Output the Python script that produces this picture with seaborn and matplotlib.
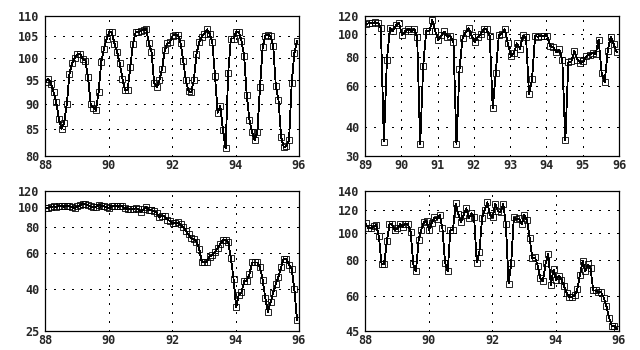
import numpy as np
import pandas as pd
import matplotlib
matplotlib.use("Agg")
import matplotlib.pyplot as plt
import seaborn as sns
from matplotlib.ticker import FixedLocator, FixedFormatter, NullLocator

# ---- data: monthly index values ----
months_88 = 96          # Jan 88 .. Dec 95
months_89 = 84          # Jan 89 .. Dec 95

series_a = [94.7, 95.4, 94.3, 92.5, 90.4, 87.0, 85.1, 86.3, 90.1, 96.4, 98.9, 100.0,
            100.8, 100.9, 99.8, 99.4, 95.8, 90.1, 89.3, 88.8, 92.5, 99.1, 102.0, 104.3,
            106.0, 106.0, 103.3, 101.4, 98.8, 95.4, 92.9, 93.0, 98.0, 103.2, 106.0, 106.0,
            106.3, 106.6, 106.8, 103.4, 101.4, 94.5, 93.6, 95.0, 97.6, 101.7, 103.4,
            103.6, 105.2, 105.4, 105.4, 103.4, 99.2, 95.0, 92.8, 92.5, 95.0, 100.8, 103.7,
            104.9, 105.7, 106.7, 105.6, 103.6, 96.0, 88.3, 89.6, 84.9, 81.4, 96.7, 104.5,
            104.5, 106.1, 106.1, 104.0, 100.5, 91.9, 86.9, 84.5, 83.0, 84.4, 93.5, 102.4,
            105.2, 105.4, 105.1, 102.7, 93.8, 90.9, 83.5, 81.6, 81.8, 83.0, 94.5, 101.1, 103.9]

series_b = [110.8, 111.6, 111.6, 112.7, 112.3, 106.2, 34.6, 78.0, 106.2, 103.7, 109.4, 112.3,
            99.0, 103.0, 105.8, 103.0, 105.8, 97.1, 33.7, 73.5, 103.7, 103.0, 115.3, 103.0,
            94.6, 99.0, 103.0, 97.7, 98.4, 92.7, 33.7, 70.7, 96.5, 101.7, 106.5, 99.0,
            92.7, 97.1, 100.4, 105.1, 105.1, 98.4, 48.1, 68.4, 99.0, 100.4, 105.1, 91.5,
            80.7, 83.4, 91.5, 86.8, 99.0, 97.1, 55.3, 64.4, 98.4, 97.7, 98.4, 98.4,
            98.4, 89.1, 87.9, 83.9, 86.2, 78.0, 35.0, 76.0, 76.5, 85.1, 78.0, 75.5,
            76.5, 80.7, 81.7, 83.4, 82.3, 94.6, 68.4, 62.3, 84.5, 97.7, 90.9, 83.9]

series_c = [98.8, 99.5, 100.3, 101.0, 100.3, 101.8, 101.8, 101.8, 101.8, 101.0, 100.3, 98.8,
            101.0, 102.5, 104.1, 103.3, 102.5, 101.0, 100.3, 100.3, 102.5, 101.8, 101.0, 100.3,
            98.8, 101.8, 101.8, 101.8, 101.8, 101.0, 98.8, 98.0, 98.0, 98.0, 98.8, 98.0,
            95.1, 98.0, 100.3, 96.6, 96.6, 95.9, 93.7, 89.6, 91.0, 90.3, 87.0, 85.7,
            83.8, 83.8, 84.4, 82.5, 80.1, 76.6, 73.8, 70.5, 70.0, 67.9, 63.0, 54.3,
            54.3, 54.3, 57.6, 58.5, 60.7, 63.5, 66.4, 69.2, 69.2, 67.9, 56.7, 45.0,
            32.7, 37.6, 38.5, 43.7, 43.9, 47.1, 53.9, 53.9, 53.9, 51.1, 44.5, 36.3,
            30.9, 34.5, 38.4, 42.4, 46.0, 51.1, 56.3, 56.0, 52.3, 50.2, 39.8, 28.3]

series_d = [107.7, 103.4, 103.4, 105.3, 106.2, 96.9, 77.4, 77.4, 93.0, 106.8, 106.8, 102.0,
            103.4, 106.8, 104.8, 107.4, 106.8, 100.3, 77.2, 72.9, 93.8, 102.3, 108.5, 109.7,
            102.0, 108.0, 113.0, 111.5, 115.2, 103.7, 78.4, 72.9, 101.7, 102.0, 126.6, 116.1,
            108.8, 115.2, 121.6, 112.4, 116.8, 113.0, 78.4, 85.7, 112.4, 120.0, 127.7, 115.2,
            113.3, 126.3, 118.7, 118.3, 126.3, 106.8, 66.1, 77.8, 113.0, 111.2, 112.1, 106.8,
            115.2, 110.3, 95.3, 81.2, 81.7, 76.5, 69.1, 67.4, 77.8, 84.1, 65.4, 74.1,
            68.1, 70.4, 68.3, 64.7, 61.1, 59.2, 59.2, 60.1, 63.1, 71.1, 79.3, 73.1,
            77.2, 74.7, 62.5, 62.5, 61.8, 61.6, 59.0, 55.0, 50.2, 47.0, 47.0, 45.7]

xticks_a = [88, 90, 92, 94, 96]
xticks_b = [89, 90, 91, 92, 93, 94, 95, 96]
yticks_a = [80, 85, 90, 95, 100, 105, 110]
yticks_b = [30, 40, 60, 80, 100, 120]
yticks_c = [25, 40, 60, 80, 100, 120]
yticks_d = [45, 60, 80, 100, 120, 140]

t88 = 88 + (np.arange(months_88) + 0.25) / 12
t89 = 89 + (np.arange(months_89) + 0.25) / 12

sns.set_style("white")
plt.rcParams["font.family"] = ["DejaVu Sans Mono", "DejaVu Sans"]

fig = plt.figure(figsize=(6.4, 3.5), dpi=100)
W, H = 640.0, 350.0
boxes = [(45, 16), (365, 16), (45, 191), (365, 191)]
panels = [
    (t88, series_a, xticks_a, yticks_a),
    (t89, series_b, xticks_b, yticks_b),
    (t88, series_c, xticks_a, yticks_c),
    (t88, series_d, xticks_a, yticks_d),
]

for (px, py), (t, vals, xt, yt) in zip(boxes, panels):
    ax = fig.add_axes([px / W, 1 - (py + 140) / H, 254 / W, 140 / H])
    df = pd.DataFrame({"year": t, "value": vals})
    sns.lineplot(data=df, x="year", y="value", ax=ax, color="black",
                 linewidth=0.6, marker="s", markersize=5.0,
                 markerfacecolor="none", markeredgecolor="black",
                 markeredgewidth=0.6, antialiased=False)
    ax.set_yscale("log")
    ax.set_xlim(xt[0], xt[-1])
    ax.set_ylim(yt[0], yt[-1])
    ax.xaxis.set_major_locator(FixedLocator(xt))
    ax.xaxis.set_major_formatter(FixedFormatter([str(v) for v in xt]))
    ax.yaxis.set_major_locator(FixedLocator(yt))
    ax.yaxis.set_major_formatter(FixedFormatter([str(v) for v in yt]))
    ax.yaxis.set_minor_locator(NullLocator())
    ax.xaxis.set_minor_locator(NullLocator())
    ax.set_xlabel("")
    ax.set_ylabel("")
    ax.grid(True, color="black", linestyle=(0, (1, 7)), linewidth=0.75)
    for gl in ax.get_xgridlines() + ax.get_ygridlines():
        gl.set_antialiased(False)
    ax.tick_params(length=0, pad=2, labelsize=8.5)
    ax.tick_params(axis="y", pad=4)
    for lab in ax.get_xticklabels() + ax.get_yticklabels():
        lab.set_fontweight("bold")
    for s in ax.spines.values():
        s.set_color("black")
        s.set_linewidth(0.9)

fig.savefig("out.png", dpi=100)
